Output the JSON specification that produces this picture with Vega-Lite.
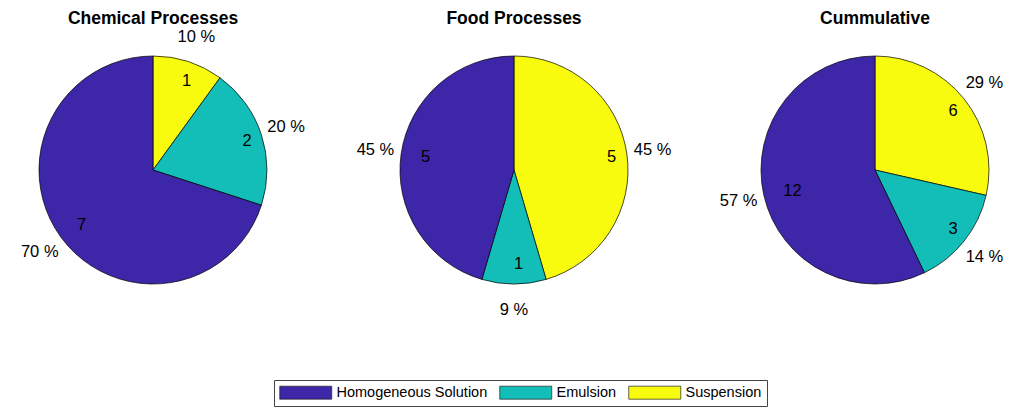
{
  "$schema": "https://vega.github.io/schema/vega-lite/v6.json",
  "autosize": "none",
  "width": 1018,
  "height": 340,
  "padding": {"left": 0, "top": 0, "right": 0, "bottom": 68},
  "background": "white",
  "data": {
    "values": [
      {"panel": "Chemical Processes", "type": "Suspension", "ord": 1, "count": 1, "pct": "10 %"},
      {"panel": "Chemical Processes", "type": "Emulsion", "ord": 2, "count": 2, "pct": "20 %"},
      {"panel": "Chemical Processes", "type": "Homogeneous Solution", "ord": 3, "count": 7, "pct": "70 %"},
      {"panel": "Food Processes", "type": "Suspension", "ord": 1, "count": 5, "pct": "45 %"},
      {"panel": "Food Processes", "type": "Emulsion", "ord": 2, "count": 1, "pct": "9 %"},
      {"panel": "Food Processes", "type": "Homogeneous Solution", "ord": 3, "count": 5, "pct": "45 %"},
      {"panel": "Cummulative", "type": "Suspension", "ord": 1, "count": 6, "pct": "29 %"},
      {"panel": "Cummulative", "type": "Emulsion", "ord": 2, "count": 3, "pct": "14 %"},
      {"panel": "Cummulative", "type": "Homogeneous Solution", "ord": 3, "count": 12, "pct": "57 %"}
    ]
  },
  "encoding": {
    "x": {"field": "panel", "type": "nominal", "sort": ["Chemical Processes", "Food Processes", "Cummulative"], "scale": {"type": "point", "range": [153, 875], "padding": 0}, "axis": null}
  },
  "layer": [
    {
      "mark": {"type": "arc", "stroke": "black", "strokeWidth": 0.7},
      "encoding": {
        "theta": {"field": "count", "type": "quantitative", "stack": "normalize"},
        "radius": {"field": "panel", "type": "nominal", "scale": {"type": "point", "range": [114, 114]}},
        "radius2": {"value": 0},
        "order": {"field": "ord", "type": "quantitative", "sort": "ascending"},
        "color": {"field": "type", "type": "nominal", "scale": {"domain": ["Homogeneous Solution", "Emulsion", "Suspension"], "range": ["#3e26a8", "#13beb8", "#f9fb0e"]}}
      }
    },
    {
      "mark": {"type": "text", "align": "left", "baseline": "middle"},
      "encoding": {
        "theta": {"field": "count", "type": "quantitative", "stack": "normalize"},
        "radius": {"field": "panel", "type": "nominal", "scale": {"type": "point", "range": [94, 94]}},
        "order": {"field": "ord", "type": "quantitative", "sort": "ascending"},
        "text": {"field": "count", "type": "quantitative"}
      }
    },
    {
      "mark": {"type": "text", "align": "center", "baseline": "middle"},
      "encoding": {
        "theta": {"field": "count", "type": "quantitative", "stack": "normalize"},
        "radius": {"field": "panel", "type": "nominal", "scale": {"type": "point", "range": [140, 140]}},
        "order": {"field": "ord", "type": "quantitative", "sort": "ascending"},
        "text": {"field": "pct", "type": "nominal"}
      }
    },
    {
      "transform": [{"filter": "datum.ord === 1"}],
      "mark": {"type": "text", "dy": -146, "baseline": "alphabetic", "fontWeight": "bold", "fontSize": 17.5},
      "encoding": {
        "text": {"field": "panel", "type": "nominal"}
      }
    }
  ],
  "resolve": {"scale": {"radius": "independent", "theta": "independent"}},
  "config": {
    "view": {"stroke": null},
    "font": "Liberation Sans",
    "text": {"font": "Liberation Sans", "fontSize": 16.5, "color": "black"},
    "legend": {
      "orient": "none",
      "legendX": 274,
      "legendY": 380,
      "direction": "horizontal",
      "title": null,
      "strokeColor": "#444",
      "strokeWidth": 1,
      "padding": 5,
      "symbolType": "M-1,-1H7V1H-1Z",
      "symbolSize": 169,
      "symbolStrokeColor": "#222",
      "symbolStrokeWidth": 0.7,
      "symbolOpacity": 1,
      "labelFont": "Liberation Sans",
      "labelFontSize": 14.5,
      "labelColor": "black",
      "labelOffset": 43,
      "columnPadding": 10,
      "cornerRadius": 0
    }
  }
}
